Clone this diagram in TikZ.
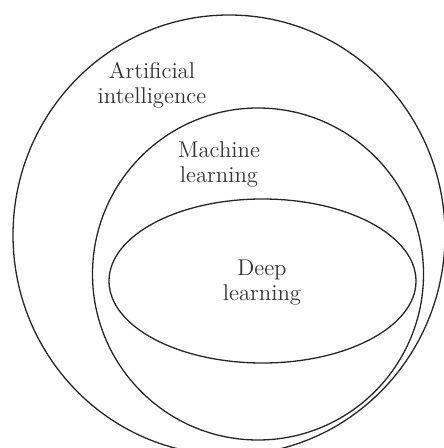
\documentclass[tikz,border=0pt]{standalone}
\usepackage{fontspec}
\setmainfont{Latin Modern Roman}
\begin{document}
\begin{tikzpicture}[x=0.5pt,y=-0.5pt,
  ring/.style={draw=black!85,line width=0.65pt},
  lbl/.style={align=center,inner sep=0pt,font=\fontsize{11.4}{12.5}\selectfont,text=black!80}]
\useasboundingbox (0,0) rectangle (443,448);
\draw[ring] (229,235) ellipse [x radius=216, y radius=220];
\draw[ring] (258,274) ellipse [x radius=165.5, y radius=166];
\draw[ring] (262.5,281) ellipse [x radius=153.5, y radius=82];
\node[lbl] (ai) at (152,85) {Artificial\\intelligence};
\node[lbl] (ml) at (219,164.5) {Machine\\learning};
\node[lbl] (dl) at (262,283) {Deep\\learning};
\end{tikzpicture}
\end{document}
